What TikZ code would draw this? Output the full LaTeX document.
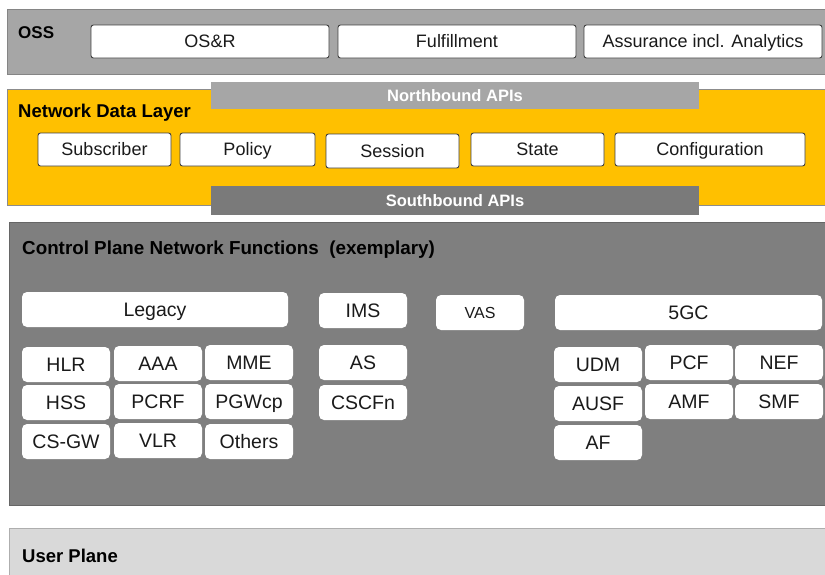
\documentclass[tikz,border=0pt]{standalone}
\usepackage{fontspec}
\setmainfont{Liberation Sans}
\definecolor{ossgray}{HTML}{A6A6A6}
\definecolor{ndlyellow}{HTML}{FFC000}
\definecolor{cpgray}{HTML}{7F7F7F}
\definecolor{upgray}{HTML}{D9D9D9}
\definecolor{nbgray}{HTML}{A6A6A6}
\definecolor{sbgray}{HTML}{7A7A7A}
\definecolor{txt}{HTML}{1A1A1A}
\newcommand{\bx}[7]{%
  \node[#7, minimum width={(#4-#2)*1pt}, minimum height={(#5-#3)*1pt}, inner sep=0pt]
    (#1) at ({(#2+#4)/2},{(#3+#5)/2}) {#6};}
\tikzset{
  band/.style={draw=#1!80!black, line width=0.5pt},
  obox/.style={draw=black!75, fill=white, rounded corners=2.5pt, line width=0.9pt,
     text=txt, font=\fontsize{18}{18}\selectfont, text height=12.9pt, text depth=0pt},
  nfbox/.style={fill=white, rounded corners=5pt, text=txt,
     font=\fontsize{19.5}{19.5}\selectfont, text height=14pt, text depth=0pt},
  apibar/.style={text=white, font=\bfseries\fontsize{16.5}{16.5}\selectfont,
     text height=11.8pt, text depth=0pt},
  title/.style={anchor=base west, inner sep=0pt, text=black,
     font=\bfseries\fontsize{18.5}{18.5}\selectfont},
}
\begin{document}
\begin{tikzpicture}[x=1pt,y=-1pt]
\useasboundingbox (0,0) rectangle (825,574);
% OSS
\bx{oss}{7}{9}{826}{74}{}{band=ossgray, fill=ossgray}
\node[title, font=\bfseries\fontsize{17}{17}\selectfont] (ossT) at (18,38) {OSS};
\bx{osr}{91}{25}{329}{58}{OS\&R}{obox}
\bx{ful}{338}{25}{576}{58}{Fulfillment}{obox}
\bx{ass}{584}{25}{822}{58}{Assurance incl. Analytics}{obox}
% Network Data Layer
\bx{ndl}{7}{89}{826}{205}{}{band=ndlyellow, fill=ndlyellow, draw=black!45}
\bx{nb}{211}{82}{699}{109}{Northbound APIs}{apibar, fill=nbgray}
\bx{sb}{211}{186}{699}{215}{Southbound APIs}{apibar, fill=sbgray}
\node[title] (ndlT) at (18,117.5) {Network Data Layer};
\bx{sub}{38}{133}{171}{166}{Subscriber}{obox}
\bx{pol}{180}{133}{315}{166}{Policy}{obox}
\bx{ses}{326}{134}{459}{168}{Session}{obox}
\bx{sta}{471}{133}{604}{166}{State}{obox}
\bx{con}{615}{133}{805}{166}{Configuration}{obox}
% Control plane
\bx{cp}{9}{222}{826}{505}{}{fill=cpgray, draw=cpgray!80!black, line width=0.5pt}
\node[title, font=\bfseries\fontsize{18.8}{18.8}\selectfont] (cpT) at (22,254) {Control Plane Network Functions\ \ (exemplary)};
\bx{leg}{22}{292}{288}{327}{Legacy}{nfbox}
\bx{ims}{319}{293}{407}{328}{IMS}{nfbox}
\bx{vas}{436}{295}{524}{330}{VAS}{nfbox, font=\fontsize{16}{16}\selectfont, text height=11.5pt}
\bx{fgc}{555}{295}{822}{330}{5GC}{nfbox}
\bx{hlr}{22}{347}{110}{382}{HLR}{nfbox}
\bx{aaa}{114}{346}{202}{381}{AAA}{nfbox}
\bx{mme}{205}{345}{293}{380}{MME}{nfbox}
\bx{hss}{22}{385}{110}{420}{HSS}{nfbox}
\bx{pcrf}{114}{384}{202}{419}{PCRF}{nfbox}
\bx{pgw}{205}{384}{293}{419}{PGWcp}{nfbox}
\bx{csgw}{22}{424}{110}{459}{CS-GW}{nfbox}
\bx{vlr}{114}{423}{202}{458}{VLR}{nfbox}
\bx{oth}{205}{424}{293}{459}{Others}{nfbox}
\bx{as}{319}{345}{407}{380}{AS}{nfbox}
\bx{cscf}{319}{385}{407}{420}{CSCFn}{nfbox}
\bx{udm}{554}{347}{642}{382}{UDM}{nfbox}
\bx{pcf}{645}{345}{733}{380}{PCF}{nfbox}
\bx{nef}{735}{345}{823}{380}{NEF}{nfbox}
\bx{ausf}{554}{386}{642}{421}{AUSF}{nfbox}
\bx{amf}{645}{384}{733}{419}{AMF}{nfbox}
\bx{smf}{735}{384}{823}{419}{SMF}{nfbox}
\bx{af}{554}{425}{642}{460}{AF}{nfbox}
% User plane
\bx{up}{9}{528}{826}{580}{}{fill=upgray, draw=upgray!80!black, line width=0.5pt}
\node[title] (upT) at (22,562) {User Plane};
\end{tikzpicture}
\end{document}
